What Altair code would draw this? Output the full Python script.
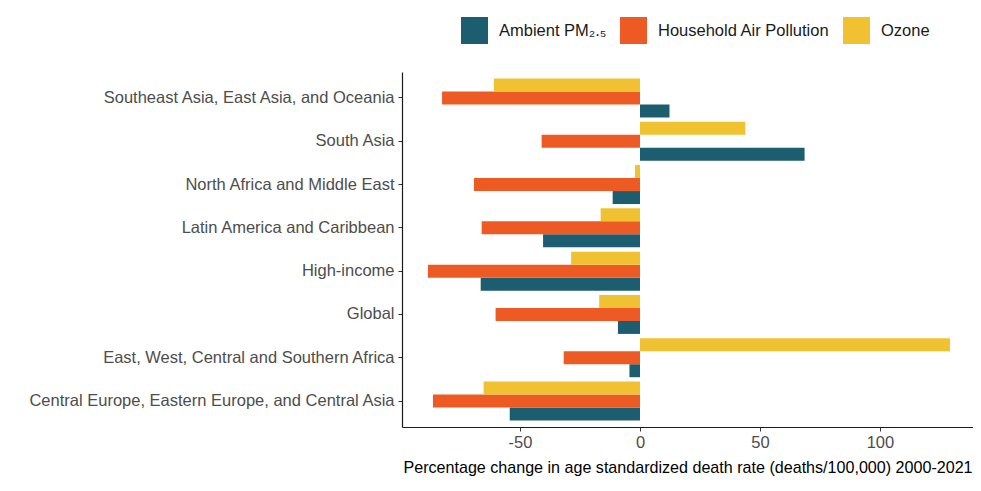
import altair as alt
import pandas as pd

regions = [
    "Southeast Asia, East Asia, and Oceania",
    "South Asia",
    "North Africa and Middle East",
    "Latin America and Caribbean",
    "High-income",
    "Global",
    "East, West, Central and Southern Africa",
    "Central Europe, Eastern Europe, and Central Asia",
]
ambient_pm25 = [12.3, 68.6, -11.4, -40.4, -66.4, -9.2, -4.4, -54.3]
household_air = [-82.5, -41.0, -69.2, -66.0, -88.4, -60.2, -31.8, -86.3]
ozone = [-60.9, 43.9, -2.1, -16.4, -28.7, -17.0, 129.2, -65.2]

series = ["Ambient PM₂.₅", "Household Air Pollution", "Ozone"]
colors = ["#1d5d70", "#ee5a24", "#f0c231"]
x_ticks = [-50, 0, 50, 100]

rows = []
for i, r in enumerate(regions):
    for s, vals in zip(series, [ambient_pm25, household_air, ozone]):
        rows.append({"region": r, "series": s, "value": vals[i]})
df = pd.DataFrame(rows)

FONT = "Liberation Sans"
FS = 16.5

chart = alt.Chart(df).mark_bar().encode(
    x=alt.X(
        "value:Q",
        scale=alt.Scale(domain=[-99.2, 138.8], nice=False),
        axis=alt.Axis(
            values=x_ticks,
            labelExpr="'' + datum.value",
            title="Percentage change in age standardized death rate (deaths/100,000) 2000-2021",
            grid=False,
            domainColor="#1a1a1a",
            domainWidth=1.2,
            tickColor="#333333",
            tickSize=4,
            labelFont=FONT,
            labelFontSize=FS,
            labelColor="#4d4d4d",
            labelPadding=3,
            titleFont=FONT,
            titleFontSize=16.1,
            titleFontWeight="normal",
            titleColor="#000000",
            titlePadding=9,
        ),
    ),
    x2=alt.datum(0),
    y=alt.Y(
        "region:N",
        sort=regions,
        scale=alt.Scale(paddingInner=0.1, paddingOuter=0.15),
        axis=alt.Axis(
            title=None,
            domainColor="#1a1a1a",
            domainWidth=1.2,
            tickColor="#333333",
            tickSize=4,
            labelFont=FONT,
            labelFontSize=FS,
            labelColor="#4d4d4d",
            labelPadding=4,
            labelLimit=500,
        ),
    ),
    yOffset=alt.YOffset("series:N", sort=["Ozone", "Household Air Pollution", "Ambient PM₂.₅"]),
    color=alt.Color(
        "series:N",
        scale=alt.Scale(domain=series, range=colors),
        legend=alt.Legend(
            title=None,
            orient="none",
            direction="horizontal",
            legendX=59,
            legendY=-55,
            symbolType="square",
            symbolSize=729,
            symbolStrokeWidth=0,
            symbolOpacity=1,
            labelFont=FONT,
            labelFontSize=FS,
            labelColor="#1a1a1a",
            labelOffset=11,
            columnPadding=13,
            labelLimit=300,
        ),
    ),
).properties(
    width=571,
    height=355,
    background="white",
    autosize=alt.AutoSizeParams(type="none"),
    padding={"left": 394, "top": 64, "right": 0, "bottom": 50},
).configure_view(stroke=None, strokeWidth=0)

chart.save("out.html", embed_options={"renderer": "svg", "actions": False})
